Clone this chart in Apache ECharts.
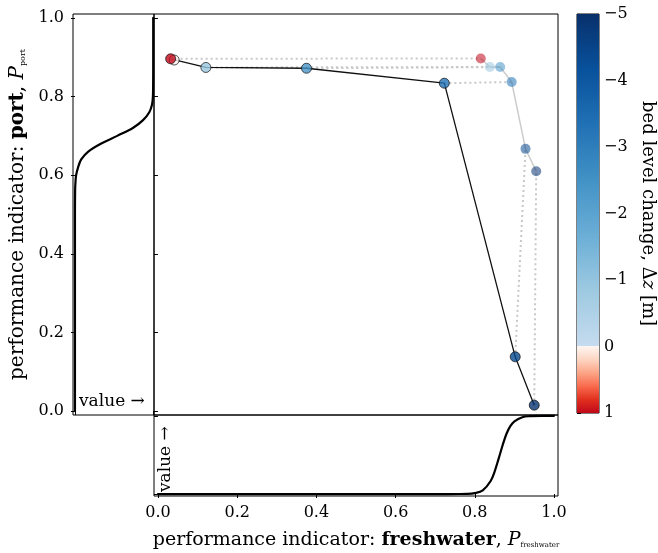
<!DOCTYPE html>
<html>
<head>
<meta charset="utf-8">
<script src="https://cdn.jsdelivr.net/npm/echarts@6/dist/echarts.min.js"></script>
<style>html,body{margin:0;padding:0;background:#fff}#c{width:658px;height:553px}</style>
</head>
<body>
<div id="c"></div>
<script>
// ---- data ----
// main path (black outlined markers)
const pathFresh = [0.032, 0.121, 0.375, 0.723, 0.902, 0.950];
const pathPort  = [0.896, 0.874, 0.872, 0.834, 0.138, 0.015];
const pathDz    = [1.0, -0.9, -2.4, -3.3, -4.4, -4.9];
// extra white marker beside the first one
const extraFresh = [0.041];
const extraPort  = [0.893];
const extraDz    = [0.0];
// faded reference path
const refFresh = [0.815, 0.838, 0.864, 0.893, 0.928, 0.955];
const refPort  = [0.897, 0.875, 0.875, 0.837, 0.667, 0.610];
const refDz    = [1.0, -0.9, -2.4, -3.3, -4.4, -4.9];
// left marginal: value as a function of the port indicator
const portGridY = [0, 0.50, 0.56, 0.58, 0.60, 0.62, 0.64, 0.66, 0.68, 0.70, 0.72, 0.74, 0.76, 0.78, 0.80, 0.83, 0.88, 1.0];
const portValue = [0, 0, 0.002, 0.006, 0.015, 0.04, 0.08, 0.17, 0.33, 0.54, 0.74, 0.87, 0.95, 0.985, 0.996, 0.999, 1, 1];
// bottom marginal: value as a function of the freshwater indicator
const fwGridX = [0, 0.70, 0.76, 0.78, 0.80, 0.82, 0.84, 0.85, 0.86, 0.87, 0.88, 0.89, 0.90, 0.92, 0.94, 0.97, 1.0];
const fwValue = [0, 0, 0.0005, 0.002, 0.012, 0.047, 0.167, 0.287, 0.45, 0.62, 0.77, 0.87, 0.93, 0.982, 0.995, 1.0, 1.0];
// tick labels
const mainTicks = [0, 0.2, 0.4, 0.6, 0.8, 1.0];
const cbTicks = [-5, -4, -3, -2, -1, 0, 1];
const cbMin = -5, cbMax = 1;

// ---- colormap: Blues for negative, Reds for positive ----
const blueStops = [[0, '#c6dbef'], [-0.833, '#9ecae1'], [-1.667, '#6baed6'], [-2.5, '#4292c6'], [-3.333, '#2171b5'], [-4.167, '#08519c'], [-5, '#08306b']];
const redStops = [[0, '#fff5f0'], [0.2, '#fdd4c2'], [0.4, '#fca486'], [0.6, '#f9694c'], [0.8, '#e0301f'], [1.0, '#c0081a']];
function hex2rgb(h){return [parseInt(h.substr(1,2),16),parseInt(h.substr(3,2),16),parseInt(h.substr(5,2),16)];}
function interp(stops, v){
  for (let i=0;i<stops.length-1;i++){
    const a=stops[i], b=stops[i+1];
    const lo=Math.min(a[0],b[0]), hi=Math.max(a[0],b[0]);
    if (v>=lo && v<=hi){
      const t=(v-a[0])/(b[0]-a[0]);
      const ca=hex2rgb(a[1]), cb=hex2rgb(b[1]);
      return 'rgb('+ca.map((c,k)=>Math.round(c+(cb[k]-c)*t)).join(',')+')';
    }
  }
  return stops[stops.length-1][1];
}
function cmap(v){ return v < 0 ? interp(blueStops, v) : interp(redStops, v); }

const FONT = 'DejaVu Serif';
const minus = v => (v < 0 ? '\u2212' + Math.abs(v) : String(v));

const mainData = pathFresh.map((x,i)=>[x, pathPort[i], pathDz[i]]);
const extraData = extraFresh.map((x,i)=>[x, extraPort[i], extraDz[i]]);
const refData = refFresh.map((x,i)=>[x, refPort[i], refDz[i]]);
const pairLines = pathFresh.map((x,i)=>({coords:[[x, pathPort[i]], [refFresh[i], refPort[i]]]}));

// colorbar gradient (top = -5, bottom = 1)
const gradStops = [];
blueStops.slice().reverse().forEach(s=>gradStops.push({offset:(s[0]-cbMin)/(cbMax-cbMin), color:s[1]}));
redStops.forEach(s=>gradStops.push({offset:(s[0]-cbMin)/(cbMax-cbMin), color:s[1]}));

const chart = echarts.init(document.getElementById('c'), null, {renderer:'canvas'});
const tickStyle = {color:'#000', width:1};
const labelStyle = {fontFamily:FONT, fontSize:16, color:'#000'};
const nameRich = (fs, ss, pad) => ({
  b:{fontFamily:FONT, fontSize:fs, fontWeight:'bold', color:'#000'},
  i:{fontFamily:FONT, fontSize:fs, fontStyle:'italic', color:'#000'},
  s:{fontFamily:FONT, fontSize:ss, color:'#000', padding:[pad,0,0,0]}
});

chart.setOption({
  animation:false,
  textStyle:{fontFamily:FONT},
  grid:[
    {left:154, top:14, width:404, height:401, show:true, borderColor:'#000', borderWidth:1, backgroundColor:'transparent'},
    {left:73, top:14, width:81, height:401, show:true, borderColor:'#000', borderWidth:1, backgroundColor:'transparent'},
    {left:154, top:415, width:404, height:81, show:true, borderColor:'#000', borderWidth:1, backgroundColor:'transparent'},
    {left:577, top:14, width:22, height:399, show:true, borderColor:'#000', borderWidth:1, backgroundColor:'transparent'}
  ],
  xAxis:[
    {gridIndex:0, type:'value', min:-0.01, max:1.01, axisLine:{show:false}, axisTick:{show:false}, axisLabel:{show:false}, splitLine:{show:false}},
    {gridIndex:1, type:'value', min:-0.025, max:1.01, position:'bottom', axisLine:{show:false},
     axisTick:{show:true, length:4, lineStyle:tickStyle, customValues:[0,1]}, axisLabel:{show:false}, splitLine:{show:false}},
    {gridIndex:2, type:'value', min:-0.01, max:1.01, position:'bottom', axisLine:{show:false},
     axisTick:{show:true, length:4, lineStyle:tickStyle, customValues:mainTicks},
     axisLabel:{show:true, customValues:mainTicks, formatter:v=>v.toFixed(1), margin:9, ...labelStyle},
     splitLine:{show:false},
     name:'performance indicator: {b|freshwater}, {i|P}{s|freshwater}', nameLocation:'middle', nameGap:35,
     nameTextStyle:{fontFamily:FONT, fontSize:19, color:'#000', rich:nameRich(19, 7, 9)}},
    {gridIndex:3, type:'value', min:0, max:1, show:false}
  ],
  yAxis:[
    {gridIndex:0, type:'value', min:-0.01, max:1.01, axisLine:{show:false},
     axisTick:{show:true, length:4, lineStyle:tickStyle, customValues:mainTicks}, axisLabel:{show:false}, splitLine:{show:false}},
    {gridIndex:1, type:'value', min:-0.01, max:1.01, position:'left', axisLine:{show:false},
     axisTick:{show:true, length:4, lineStyle:tickStyle, customValues:mainTicks},
     axisLabel:{show:true, customValues:mainTicks, formatter:v=>v.toFixed(1), margin:9, ...labelStyle},
     splitLine:{show:false},
     name:'performance indicator: {b|port}, {i|P}{s|port}', nameLocation:'middle', nameGap:45, nameRotate:90,
     nameTextStyle:{fontFamily:FONT, fontSize:20, color:'#000', rich:nameRich(20, 8, 10)}},
    {gridIndex:2, type:'value', min:-0.025, max:1.01, position:'left', axisLine:{show:false},
     axisTick:{show:true, length:4, lineStyle:tickStyle, customValues:[0,1]}, axisLabel:{show:false}, splitLine:{show:false}},
    {gridIndex:3, type:'value', min:cbMin, max:cbMax, inverse:true, interval:1, position:'right', axisLine:{show:false},
     axisTick:{show:true, length:4, lineStyle:tickStyle, customValues:cbTicks},
     axisLabel:{show:true, customValues:cbTicks, formatter:minus, margin:5, ...labelStyle},
     splitLine:{show:false},
     name:'bed level change, {d|\u0394}{i|z} [m]', nameLocation:'middle', nameGap:40, nameRotate:-90,
     nameTextStyle:{fontFamily:FONT, fontSize:18, color:'#000',
       rich:{d:{fontFamily:FONT, fontSize:18, color:'#000'}, i:{fontFamily:FONT, fontSize:18, fontStyle:'italic', color:'#000'}}}}
  ],
  series:[
    {type:'lines', coordinateSystem:'cartesian2d', xAxisIndex:0, yAxisIndex:0, z:1, silent:true,
     data:pairLines, lineStyle:{color:'#c8c8c8', width:2, type:[2,3], opacity:1}},
    {type:'line', xAxisIndex:0, yAxisIndex:0, z:2, data:refData.map(d=>[d[0],d[1]]), showSymbol:false, symbol:'none',
     lineStyle:{color:'#cccccc', width:1.5}},
    {type:'scatter', xAxisIndex:0, yAxisIndex:0, z:3, data:refData, symbolSize:10,
     itemStyle:{color:p=>cmap(p.value[2]), opacity:0.55, borderWidth:0}},
    {type:'line', xAxisIndex:0, yAxisIndex:0, z:4, data:mainData.map(d=>[d[0],d[1]]), showSymbol:false, symbol:'none',
     lineStyle:{color:'#111', width:1.3}},
    {type:'scatter', xAxisIndex:0, yAxisIndex:0, z:5, data:extraData.concat(mainData), symbolSize:10,
     itemStyle:{color:p=>cmap(p.value[2]), borderColor:'#111', borderWidth:0.9}},
    {type:'line', xAxisIndex:1, yAxisIndex:1, data:portGridY.map((y,i)=>[portValue[i], y]), showSymbol:false, symbol:'none',
     smooth:0.35, lineStyle:{color:'#000', width:2.2, cap:'round', join:'round'}},
    {type:'line', xAxisIndex:2, yAxisIndex:2, data:fwGridX.map((x,i)=>[x, fwValue[i]]), showSymbol:false, symbol:'none',
     smooth:0.35, lineStyle:{color:'#000', width:2.2, cap:'round', join:'round'}},
    {type:'custom', xAxisIndex:3, yAxisIndex:3, data:[[0,0]], silent:true,
     renderItem:function(params, api){
       const a = api.coord([0, cbMax]);
       const b = api.coord([1, cbMin]);
       return {type:'rect', shape:{x:Math.min(a[0],b[0]), y:Math.min(a[1],b[1]), width:Math.abs(b[0]-a[0]), height:Math.abs(b[1]-a[1])},
               style:{fill:new echarts.graphic.LinearGradient(0,0,0,1,gradStops)}};
     }}
  ],
  graphic:[
    {type:'text', left:79, top:393, style:{text:'value \u2192', font:'17px "DejaVu Serif"', fill:'#000'}},
    {type:'text', x:157, y:492, rotation:Math.PI/2, style:{text:'value \u2192', font:'17px "DejaVu Serif"', fill:'#000'}}
  ]
});
</script>
</body>
</html>
